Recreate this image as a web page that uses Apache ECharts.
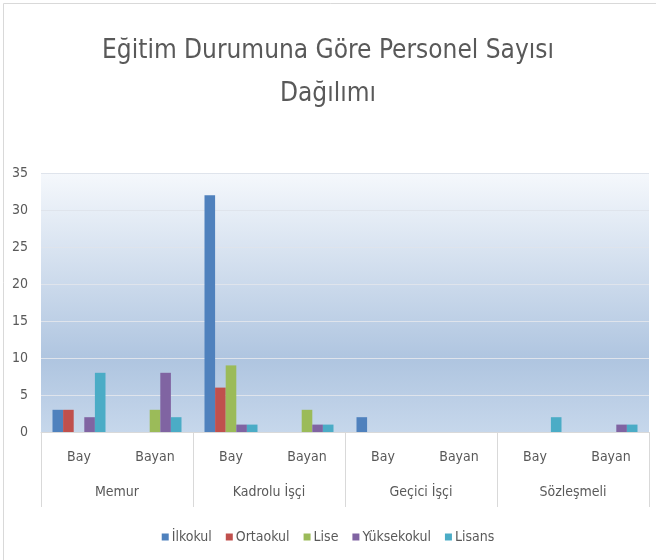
<!DOCTYPE html>
<html>
<head>
<meta charset="utf-8">
<script src="https://cdn.jsdelivr.net/npm/echarts@6/dist/echarts.min.js"></script>
<style>
html, body { margin: 0; padding: 0; background: #fff; }
#chart { width: 656px; height: 560px; }
</style>
</head>
<body>
<div id="chart"></div>
<script>
var subLabels = ['Bay', 'Bayan', 'Bay', 'Bayan', 'Bay', 'Bayan', 'Bay', 'Bayan'];
var groups = ['Memur', 'Kadrolu İşçi', 'Geçici İşçi', 'Sözleşmeli'];
var names = ['İlkokul', 'Ortaokul', 'Lise', 'Yüksekokul', 'Lisans'];
var ilkokul    = [3, 0, 32, 0, 2, 0, 0, 0];
var ortaokul   = [3, 0, 6, 0, 0, 0, 0, 0];
var lise       = [0, 3, 9, 3, 0, 0, 0, 0];
var yuksekokul = [2, 8, 1, 1, 0, 0, 0, 1];
var lisans     = [8, 2, 1, 1, 0, 0, 2, 1];
var colors = ['#4f81bd', '#c0504d', '#9bbb59', '#8064a2', '#4bacc6'];

var font = "'Liberation Sans Narrow', 'DejaVu Sans Condensed', 'Liberation Sans', sans-serif";
var values = [ilkokul, ortaokul, lise, yuksekokul, lisans];

var series = [];
for (var i = 0; i < names.length; i++) {
    series.push({
        name: names[i],
        type: 'bar',
        xAxisIndex: 0,
        data: values[i],
        barWidth: 10.6,
        barGap: '0%',
        itemStyle: {color: colors[i]}
    });
}

var chart = echarts.init(document.getElementById('chart'));
var option = {
    animation: false,
    textStyle: {fontFamily: font},
    title: {
        text: 'Eğitim Durumuna Göre Personel Sayısı\nDağılımı',
        left: 'center',
        top: 25,
        textStyle: {
            fontFamily: font,
            fontSize: 26,
            fontWeight: 'normal',
            color: '#595959',
            lineHeight: 43
        }
    },
    graphic: [{
        type: 'rect',
        shape: {x: 3.5, y: 3.5, width: 700, height: 700},
        style: {fill: 'none', stroke: '#d9d9d9', lineWidth: 1},
        silent: true,
        z: -10
    }],
    legend: {
        data: names,
        top: 525,
        left: 'center',
        icon: 'rect',
        itemWidth: 7,
        itemHeight: 7,
        itemGap: 14,
        textStyle: {fontFamily: font, fontSize: 14, color: '#595959', padding: [0, 0, 0, -2]}
    },
    grid: {
        left: 41,
        right: 7,
        top: 173,
        bottom: 128,
        show: true,
        borderWidth: 0,
        backgroundColor: new echarts.graphic.LinearGradient(0, 0, 0, 1, [
            {offset: 0, color: '#f5f8fc'},
            {offset: 0.72, color: '#afc5e0'},
            {offset: 1, color: '#c6d7eb'}
        ])
    },
    xAxis: [{
        type: 'category',
        data: subLabels,
        position: 'bottom',
        axisLine: {lineStyle: {color: '#d9d9d9'}},
        axisTick: {show: false},
        axisLabel: {fontFamily: font, fontSize: 14, color: '#595959', margin: 18}
    }, {
        type: 'category',
        data: groups,
        position: 'bottom',
        axisLine: {show: false},
        axisTick: {show: true, length: 75, lineStyle: {color: '#d9d9d9'}},
        axisLabel: {fontFamily: font, fontSize: 14, color: '#595959', margin: 53}
    }],
    yAxis: {
        type: 'value',
        min: 0,
        max: 35,
        interval: 5,
        axisLine: {show: false},
        axisTick: {show: false},
        axisLabel: {fontFamily: font, fontSize: 14, color: '#595959', margin: 13},
        splitLine: {lineStyle: {color: '#dfe4ec'}}
    },
    series: series
};
chart.setOption(option);
</script>
</body>
</html>
